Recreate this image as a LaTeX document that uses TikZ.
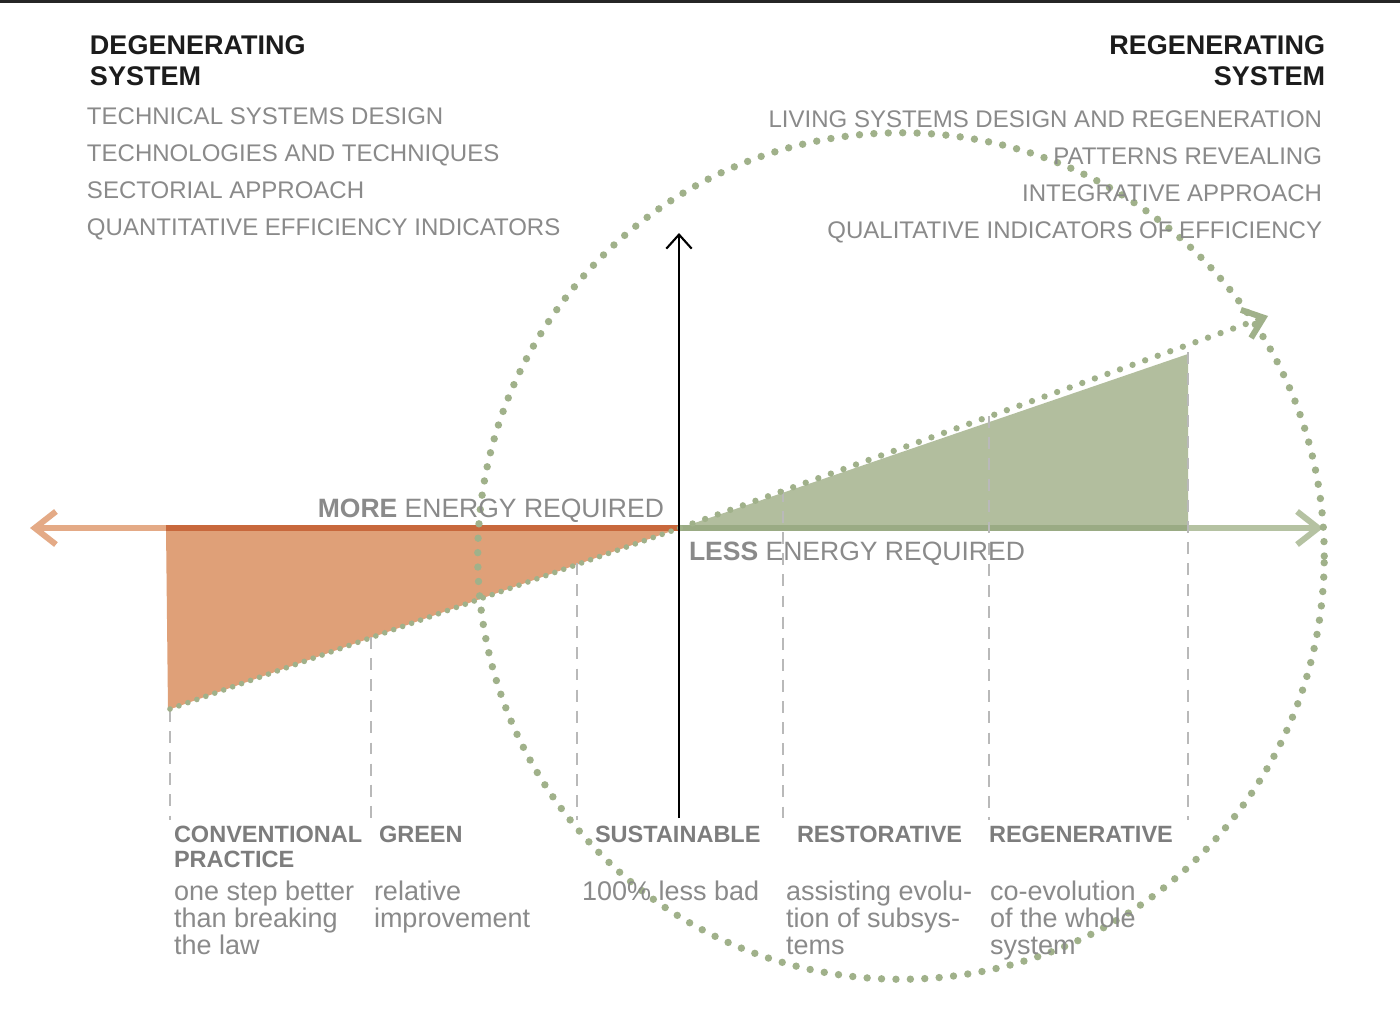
\documentclass[tikz,border=0pt]{standalone}
\usepackage{fontspec}
\setmainfont{Liberation Sans}
\usetikzlibrary{arrows.meta}
\definecolor{orangefill}{RGB}{223,160,120}
\definecolor{orangeline}{RGB}{228,170,134}
\definecolor{orangedark}{RGB}{200,104,60}
\definecolor{greenfill}{RGB}{178,190,158}
\definecolor{greenline}{RGB}{181,194,162}
\definecolor{greendark}{RGB}{154,171,132}
\definecolor{dotgreen}{RGB}{160,177,138}
\definecolor{labelgray}{RGB}{138,138,138}
\definecolor{headgray}{RGB}{125,125,125}
\definecolor{titleblack}{RGB}{28,28,28}
\definecolor{guidegray}{RGB}{185,185,185}

\begin{document}
\begin{tikzpicture}[x=0.01cm, y=-0.01cm,
  txt/.style={inner sep=0pt, outer sep=0pt},
  sysname/.style={txt, text=titleblack, font=\bfseries\fontsize{7.68}{8.82}\selectfont},
  listitem/.style={txt, text=labelgray, font=\fontsize{6.83}{10.53}\selectfont},
  energy/.style={txt, text=labelgray, font=\fontsize{7.54}{7.54}\selectfont},
  stage/.style={txt, text=headgray, anchor=north west, align=left, font=\bfseries\fontsize{6.69}{7.11}\selectfont},
  note/.style={txt, text=labelgray, anchor=north west, align=left, font=\fontsize{7.68}{7.68}\selectfont},
  guide/.style={guidegray, line width=0.45pt, dash pattern=on 3.4pt off 2.6pt},
  barb/.style={-{Straight Barb[length=6pt, width=9.4pt]}},
  dots/.style={dotgreen, line cap=round},
]
\useasboundingbox (0,0) rectangle (1400,1015);
\fill[white] (0,0) rectangle (1400,1015);
\draw[black!85, line width=0.85pt] (0,1.5) -- (1400,1.5);

% axis points
\coordinate (origin) at (680,528);
\coordinate (leftend) at (30,528);
\coordinate (rightend) at (1323,528);
\coordinate (orangecorner) at (166,528);
\coordinate (orangelow) at (168,710);
\coordinate (greencorner) at (1188,528);
\coordinate (greenhigh) at (1188,354);
\coordinate (slopestart) at (170,709);
\coordinate (slopetip) at (1268,316);
\coordinate (axisbottom) at (679,818);
\coordinate (axistop) at (679,233);
\coordinate (ringcentre) at (901,556);

% energy axis
\draw[orangeline, line width=1.7pt, barb] (orangecorner) -- (leftend);
\fill[orangefill] (orangecorner) -- (origin) -- (orangelow) -- cycle;
\draw[orangedark, line width=1.7pt] (orangecorner) -- (origin);
\draw[greenline, line width=1.7pt, barb] (greencorner) -- (rightend);
\fill[greenfill] (origin) -- (greenhigh) -- (greencorner) -- cycle;
\draw[greendark, line width=1.7pt] (origin) -- (greencorner);

% stage guides
\foreach \gx/\gy in {170/710, 371/637, 577/563, 783/490, 989/416, 1188/352}
  \draw[guide] (\gx,\gy) -- (\gx,820);

% dotted ring and slope
\draw[dots, line width=2.1pt, dash pattern=on 0pt off 4.1pt] (ringcentre) circle [radius=4.23cm];
\draw[dots, line width=1.6pt, dash pattern=on 0pt off 2.7pt] (slopestart) -- (origin);
\draw[dots, line width=1.8pt, dash pattern=on 0pt off 3.8pt,
  -{Straight Barb[length=5.3pt, width=8.5pt, line width=1.7pt]}] (origin) -- (slopetip);

\draw[black, line width=0.6pt, -{Straight Barb[length=4pt, width=7.2pt]}] (axisbottom) -- (axistop);

% headings
\node[sysname, anchor=north west, align=left] (degen) at (90,36) {DEGENERATING\\SYSTEM};
\node[sysname, anchor=north east, align=right] (regen) at (1325,36) {REGENERATING\\SYSTEM};
\node[listitem, anchor=north west, align=left] (degenlist) at (87,108) {TECHNICAL SYSTEMS DESIGN\\TECHNOLOGIES AND TECHNIQUES\\SECTORIAL APPROACH\\QUANTITATIVE EFFICIENCY INDICATORS};
\node[listitem, anchor=north east, align=right] (regenlist) at (1322,111) {LIVING SYSTEMS DESIGN AND REGENERATION\\PATTERNS REVEALING\\INTEGRATIVE APPROACH\\QUALITATIVE INDICATORS OF EFFICIENCY};

\node[energy, anchor=base east] (more) at (664,517) {\textbf{MORE} ENERGY REQUIRED};
\node[energy, anchor=base west] (less) at (689,560) {\textbf{LESS} ENERGY REQUIRED};

% stages
\node[stage] (conventional) at (174,826) {CONVENTIONAL\\PRACTICE};
\node[stage] (greenstage) at (379,826) {GREEN};
\node[stage] (sustainable) at (595,826) {SUSTAINABLE};
\node[stage] (restorative) at (797,826) {RESTORATIVE};
\node[stage] (regenerative) at (989,826) {REGENERATIVE};

\node[note] (conventionalnote) at (174,881) {one step better\\than breaking\\the law};
\node[note] (greennote) at (374,881) {relative\\improvement};
\node[note] (sustainablenote) at (582,881) {100\% less bad};
\node[note] (restorativenote) at (786,881) {assisting evolu-\\tion of subsys-\\tems};
\node[note] (regenerativenote) at (990,881) {co-evolution\\of the whole\\system};
\end{tikzpicture}
\end{document}
